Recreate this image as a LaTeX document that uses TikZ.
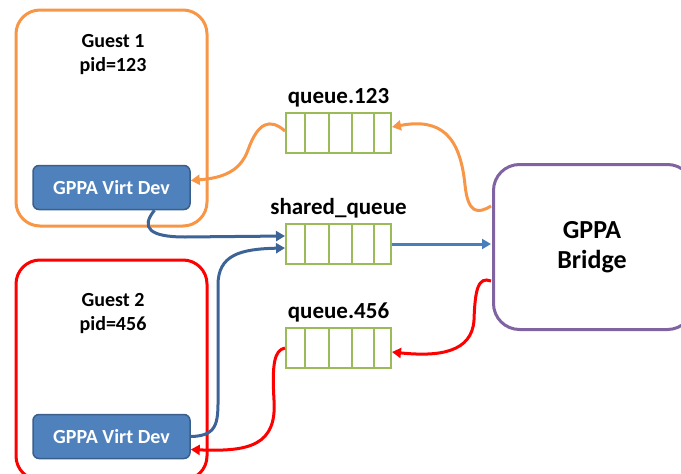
\documentclass[tikz,border=0pt]{standalone}
\usepackage{fontspec}
\setmainfont{Carlito}
\usetikzlibrary{arrows.meta}
\definecolor{orng}{HTML}{F79646}
\definecolor{redc}{HTML}{FF0000}
\definecolor{bdark}{HTML}{3C6496}
\definecolor{blite}{HTML}{4A7EBB}
\definecolor{devfill}{HTML}{4F81BD}
\definecolor{devline}{HTML}{3A5F8B}
\definecolor{grn}{HTML}{9BBB59}
\definecolor{purp}{HTML}{8064A2}
\tikzset{
  guestbox/.style={draw, line width=3pt, rounded corners=24pt},
  devbox/.style={draw=devline, fill=devfill, line width=1.5pt, rounded corners=6pt, minimum width=157pt, minimum height=44pt, text=white, font=\fontsize{20}{24}\selectfont\bfseries, inner sep=0pt},
  qbox/.style={draw=grn, line width=2pt, minimum width=105pt, minimum height=40pt, inner sep=0pt},
  qlabel/.style={font=\fontsize{23}{26}\selectfont\bfseries},
  glabel/.style={font=\fontsize{20}{24}\selectfont\bfseries, align=center},
  conn/.style={line width=3pt, -{Triangle[length=9pt,width=10pt]}},
}
\begin{document}
\begin{tikzpicture}[x=1pt,y=-1pt]
\useasboundingbox (0,0) rectangle (681,474);
% guests
\draw[guestbox, orng] (16,10) rectangle (207,226);
\draw[guestbox, redc] (16,260) rectangle (207,480);
\node[glabel] (g1) at (113,55) {Guest 1\\pid=123};
\node[glabel] (g2) at (113,314) {Guest 2\\pid=456};
\node[devbox] (d1) at (111.5,187.5) {GPPA Virt Dev};
\node[devbox] (d2) at (111.5,436.5) {GPPA Virt Dev};
% bridge
\node[draw=purp, line width=3pt, rounded corners=26pt, minimum width=200pt, minimum height=165pt, anchor=north west, inner sep=0pt] (br) at (492,163) {};
\node[font=\fontsize{26}{30}\selectfont\bfseries, align=center] (brt) at (592,247) {GPPA\\Bridge};
% queues
\foreach \n/\y/\t in {q1/133/queue.123, qs/244/shared\_queue, q2/348/queue.456}{
  \node[qbox] (\n) at (338.5,\y) {};
  \foreach \dx in {20,44,67,89}{
    \draw[grn, line width=2pt] ([xshift=\dx pt]\n.north west) -- ([xshift=\dx pt]\n.south west);
  }
  \node[qlabel, above=1pt] (\n l) at (\n.north) {\t};
}
% connectors
\coordinate (bo) at (491,206);
\coordinate (bb) at (491,244);
\coordinate (brd) at (491,281);
\draw[conn, orng] (bo) .. controls (478,214) and (468,214) .. (465,185) .. controls (460,135) and (440,118) .. ([yshift=6pt]q1.east);
\draw[conn, orng] ([yshift=2pt]q1.west) .. controls (270,118) and (258,122) .. (248,150) .. controls (240,172) and (222,178) .. ([yshift=7pt]d1.east);
\draw[conn, bdark] ([xshift=43pt]d1.south) .. controls (140,228) and (150,237) .. (185,237) -- ([yshift=8pt]qs.west);
\draw[conn, bdark] (d2.east) .. controls (220,436) and (218,420) .. (218,390) -- (218,285) .. controls (218,255) and (240,249) .. ([yshift=-4pt]qs.west);
\draw[conn, blite] (qs.east) -- (bb);
\draw[conn, redc] (brd) .. controls (478,276) and (475,290) .. (474,320) .. controls (472,352) and (440,357) .. ([yshift=-4pt]q2.east);
\draw[conn, redc] (q2.west) .. controls (274,350) and (272,365) .. (274,400) .. controls (277,445) and (250,452) .. ([yshift=-13pt]d2.east);
\end{tikzpicture}
\end{document}
